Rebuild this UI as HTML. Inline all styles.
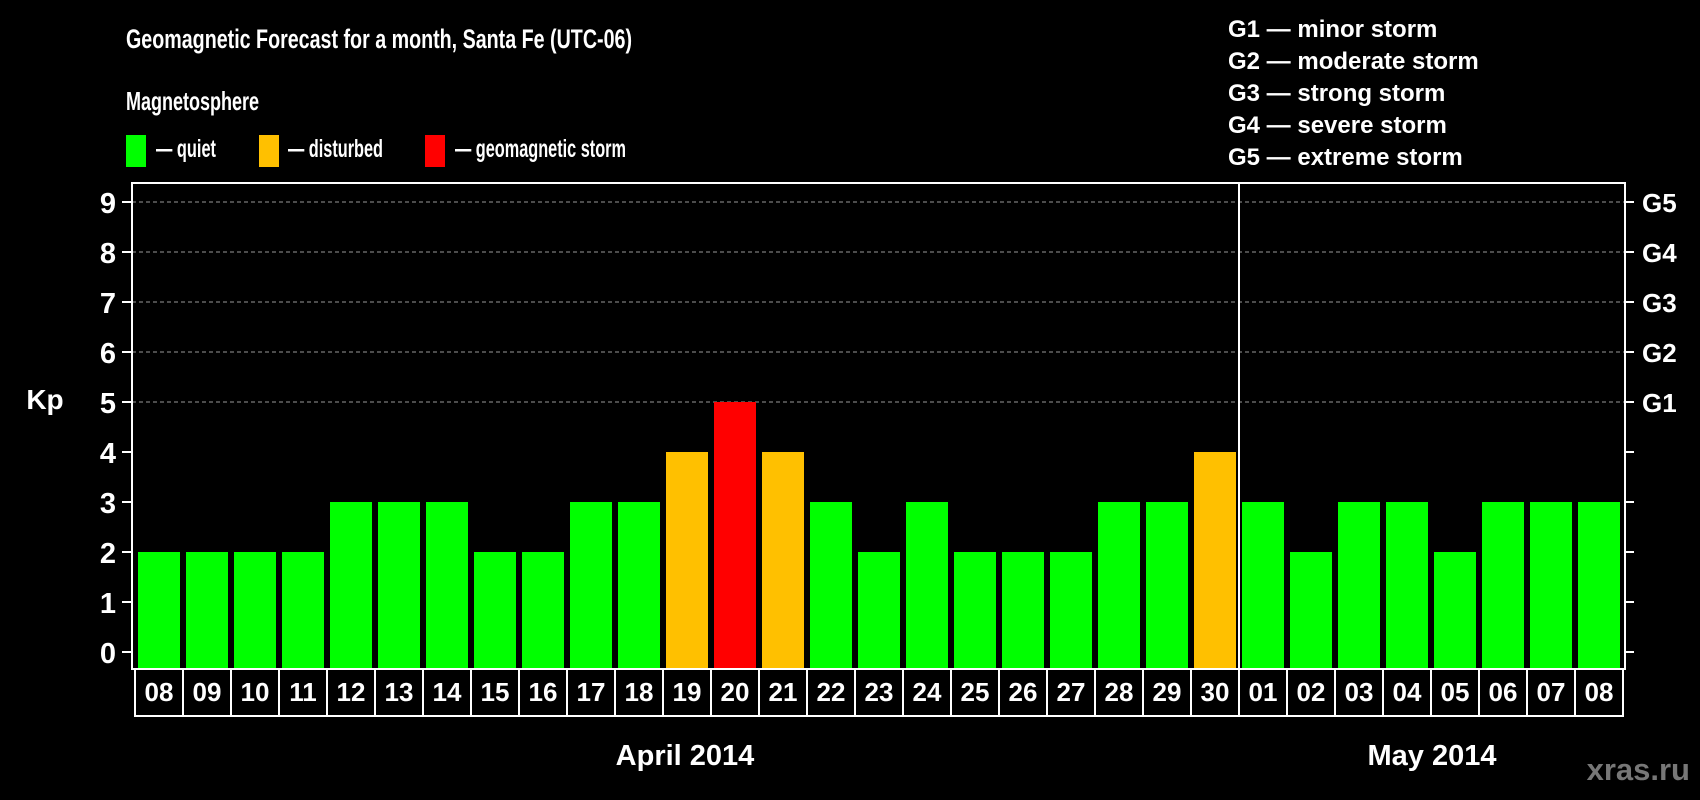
<!DOCTYPE html>
<html><head><meta charset="utf-8"><style>
html,body{margin:0;padding:0;background:#000;}
svg{display:block;font-family:"Liberation Sans",sans-serif;font-weight:bold;}
</style></head><body>
<svg id="chart" width="1700" height="800" viewBox="0 0 1700 800" xmlns="http://www.w3.org/2000/svg">
<rect width="1700" height="800" fill="#000"/>
<text x="126" y="48" font-size="27" fill="#fff" textLength="506" lengthAdjust="spacingAndGlyphs">Geomagnetic Forecast for a month, Santa Fe (UTC-06)</text>
<text x="126" y="110" font-size="26" fill="#fff" textLength="133" lengthAdjust="spacingAndGlyphs">Magnetosphere</text>
<g>
<rect x="126" y="135" width="20" height="32" fill="#00ff00"/>
<text x="156" y="157" font-size="25" fill="#fff" textLength="60" lengthAdjust="spacingAndGlyphs">— quiet</text></g>
<g>
<rect x="259" y="135" width="20" height="32" fill="#ffc000"/>
<text x="288" y="157" font-size="25" fill="#fff" textLength="95" lengthAdjust="spacingAndGlyphs">— disturbed</text></g>
<g>
<rect x="425" y="135" width="20" height="32" fill="#ff0000"/>
<text x="455" y="157" font-size="25" fill="#fff" textLength="171" lengthAdjust="spacingAndGlyphs">— geomagnetic storm</text></g>
<g font-size="24" fill="#fff">
<text x="1228" y="37">G1 — minor storm</text>
<text x="1228" y="69">G2 — moderate storm</text>
<text x="1228" y="101">G3 — strong storm</text>
<text x="1228" y="133">G4 — severe storm</text>
<text x="1228" y="165">G5 — extreme storm</text>
</g>
<text x="45" y="409" font-size="28" fill="#fff" text-anchor="middle">Kp</text>
<g id="grid"></g><g id="bars"></g><g id="axes"></g>
<text x="685" y="765" font-size="29" fill="#fff" text-anchor="middle">April 2014</text>
<text x="1432" y="765" font-size="29" fill="#fff" text-anchor="middle">May 2014</text>
<text x="1690" y="780" font-size="31" fill="#777" text-anchor="end">xras.ru</text>
</svg>
<script>
const days = ["08","09","10","11","12","13","14","15","16","17","18","19","20","21","22","23","24","25","26","27","28","29","30","01","02","03","04","05","06","07","08"];
const kp = [2,2,2,2,3,3,3,2,2,3,3,4,5,4,3,2,3,2,2,2,3,3,4,3,2,3,3,2,3,3,3];
const yTicks = [0,1,2,3,4,5,6,7,8,9];
const gLabels = ["G1","G2","G3","G4","G5"];
const gLevels = [5,6,7,8,9];
const monthBreakIndex = 23;

const NS="http://www.w3.org/2000/svg";
const L=132,R=1625,T=183,B=669,cell0=135,pitch=48,barW=42;
function yS(v){return 652-v*50;}
function xS(i){return cell0+i*pitch;}
function mk(t,a,p){const e=document.createElementNS(NS,t);for(const k in a)e.setAttribute(k,a[k]);p.appendChild(e);return e;}
const grid=document.getElementById('grid'),bars=document.getElementById('bars'),axes=document.getElementById('axes');
gLevels.forEach(v=>{
  const l=mk('line',{x1:L,x2:R,y1:yS(v),y2:yS(v),stroke:'#999','stroke-width':1,'stroke-dasharray':'4,3'},grid);
  
  
});
kp.forEach((v,i)=>{
  const c=v>=5?'#ff0000':(v>=4?'#ffc000':'#00ff00');
  const r=mk('rect',{x:xS(i)+3,y:yS(v),width:barW,height:B-1-yS(v),fill:c},bars);
  
  
});
const frame=mk('rect',{x:L,y:T,width:R-L,height:B-T,fill:'none',stroke:'#fff','stroke-width':2},axes);


const div=mk('line',{x1:xS(monthBreakIndex),x2:xS(monthBreakIndex),y1:T,y2:B,stroke:'#fff','stroke-width':2},axes);


yTicks.forEach(v=>{
  mk('line',{x1:122,x2:L,y1:yS(v),y2:yS(v),stroke:'#fff','stroke-width':2},axes);
  mk('line',{x1:R,x2:1634,y1:yS(v),y2:yS(v),stroke:'#fff','stroke-width':2},axes);
  const t=mk('text',{x:116,y:yS(v)+11,'font-size':29,fill:'#fff','text-anchor':'end'},axes);
  t.textContent=v;
  
  
});
gLabels.forEach((g,i)=>{
  const t=mk('text',{x:1642,y:yS(gLevels[i])+10,'font-size':26,fill:'#fff'},axes);
  t.textContent=g;
  
  
});
const box=mk('rect',{x:cell0,y:B,width:days.length*pitch,height:47,fill:'none',stroke:'#fff','stroke-width':2},axes);


days.forEach((d,i)=>{
  if(i>0) mk('line',{x1:xS(i),x2:xS(i),y1:B,y2:B+47,stroke:'#fff','stroke-width':2},axes);
  const t=mk('text',{x:xS(i)+pitch/2,y:701,'font-size':26,fill:'#fff','text-anchor':'middle'},axes);
  t.textContent=d;
  
  
});
</script>
</body></html>
